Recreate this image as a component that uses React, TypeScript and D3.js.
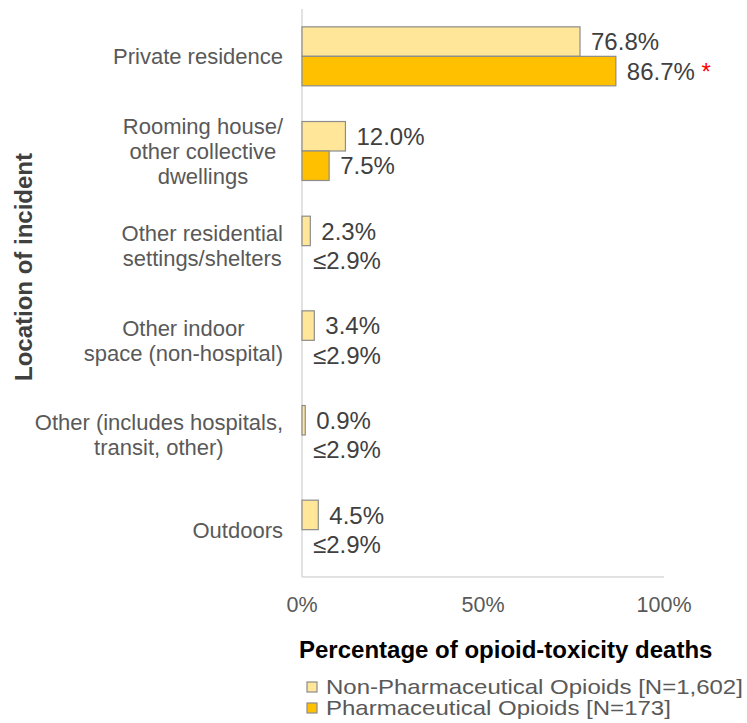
import React from "react";
import * as d3 from "d3";

const categories = [
  "Private residence",
  "Rooming house/other collective dwellings",
  "Other residential settings/shelters",
  "Other indoor space (non-hospital)",
  "Other (includes hospitals, transit, other)",
  "Outdoors",
];
const categoryLines = [
  ["Private residence"],
  ["Rooming house/", "other collective", "dwellings"],
  ["Other residential", "settings/shelters"],
  ["Other indoor", "space (non-hospital)"],
  ["Other (includes hospitals,", "transit, other)"],
  ["Outdoors"],
];
const nonPharmValues = [76.8, 12.0, 2.3, 3.4, 0.9, 4.5];
const pharmValues: (number | null)[] = [86.7, 7.5, null, null, null, null];
const nonPharmLabels = ["76.8%", "12.0%", "2.3%", "3.4%", "0.9%", "4.5%"];
const pharmLabels = ["86.7%", "7.5%", "≤2.9%", "≤2.9%", "≤2.9%", "≤2.9%"];
const significant = [true, false, false, false, false, false];
const xTicks = [0, 50, 100];
const seriesNames = ["Non-Pharmaceutical Opioids [N=1,602]", "Pharmaceutical Opioids [N=173]"];
const seriesColors = ["#FFE699", "#FFC000"];

const FONT = '"Liberation Sans", Arial, sans-serif';

function measure(text: string, size: number, weight = "normal") {
  const c = document.createElement("canvas").getContext("2d");
  if (!c) return text.length * size * 0.5;
  c.font = `${weight} ${size}px "Liberation Sans", Arial, sans-serif`;
  return c.measureText(text).width;
}

export default function App() {
  const W = 747, H = 723;
  const x = d3.scaleLinear().domain([0, 100]).range([302, 664]);
  const y = d3.scaleBand<string>().domain(categories).range([9, 577]).paddingInner(0.377).paddingOuter(0.1885);
  const bw = y.bandwidth() / 2;
  const catSize = 22;
  const lineH = 25;
  const valSize = 24;
  const labelRight = 283;

  return (
    <svg width={W} height={H} style={{ position: "absolute", left: 0, top: 0, fontFamily: FONT }}>
      <rect width={W} height={H} fill="#fff" />
      {/* axes lines */}
      <line x1={x(0)} x2={x(0)} y1={9} y2={577} stroke="#d9d9d9" strokeWidth={1.5} />
      <line x1={x(0)} x2={x(100)} y1={577} y2={577} stroke="#d9d9d9" strokeWidth={1.5} />
      {/* tick labels */}
      {xTicks.map((t) => (
        <text key={t} x={x(t)} y={612} textAnchor="middle" fontSize={21.5} fill="#595959">
          {t}%
        </text>
      ))}
      {/* bars */}
      {categories.map((c, i) => {
        const top = y(c)!;
        const v1 = nonPharmValues[i];
        const v2 = pharmValues[i];
        return (
          <g key={c}>
            <rect x={x(0)} y={top} width={x(v1) - x(0)} height={bw} fill={seriesColors[0]} stroke="#8c8c8c" strokeWidth={1.2} />
            {v2 !== null && (
              <rect x={x(0)} y={top + bw} width={x(v2) - x(0)} height={bw} fill={seriesColors[1]} stroke="#8c8c8c" strokeWidth={1.2} />
            )}
            <text x={x(v1) + 11} y={top + bw / 2 + 0.36 * valSize} fontSize={valSize} fill="#404040">
              {nonPharmLabels[i]}
            </text>
            <text x={x(v2 ?? 0) + 11} y={top + bw * 1.5 + 0.36 * valSize} fontSize={valSize} fill="#404040">
              {pharmLabels[i]}
              {significant[i] && <tspan fill="#FF0000">{" *"}</tspan>}
            </text>
          </g>
        );
      })}
      {/* category labels */}
      {categories.map((c, i) => {
        const lines = categoryLines[i];
        const maxW = Math.max(...lines.map((l) => measure(l, catSize)));
        const cx = labelRight - maxW / 2;
        const cy = y(c)! + y.bandwidth() / 2;
        return (
          <text key={c} fontSize={catSize} fill="#595959" textAnchor="middle">
            {lines.map((l, j) => (
              <tspan key={j} x={cx} y={cy + (j - (lines.length - 1) / 2) * lineH + 0.36 * catSize}>
                {l}
              </tspan>
            ))}
          </text>
        );
      })}
      {/* y axis title */}
      <text transform="translate(32,267) rotate(-90)" textAnchor="middle" fontSize={24} fontWeight="bold" fill="#404040">
        Location of incident
      </text>
      {/* x axis title */}
      <text x={299} y={658} fontSize={24} fontWeight="bold" fill="#000">
        Percentage of opioid-toxicity deaths
      </text>
      {/* legend */}
      {seriesNames.map((n, i) => (
        <g key={n}>
          <rect x={307} y={682 + i * 21} width={10} height={10} fill={seriesColors[i]} stroke="#8c8c8c" strokeWidth={1.2} />
          <text
            x={326}
            y={694 + i * 21}
            fontSize={21}
            fill="#595959"
            textLength={measure(n, 24)}
            lengthAdjust="spacingAndGlyphs"
          >
            {n}
          </text>
        </g>
      ))}
    </svg>
  );
}
